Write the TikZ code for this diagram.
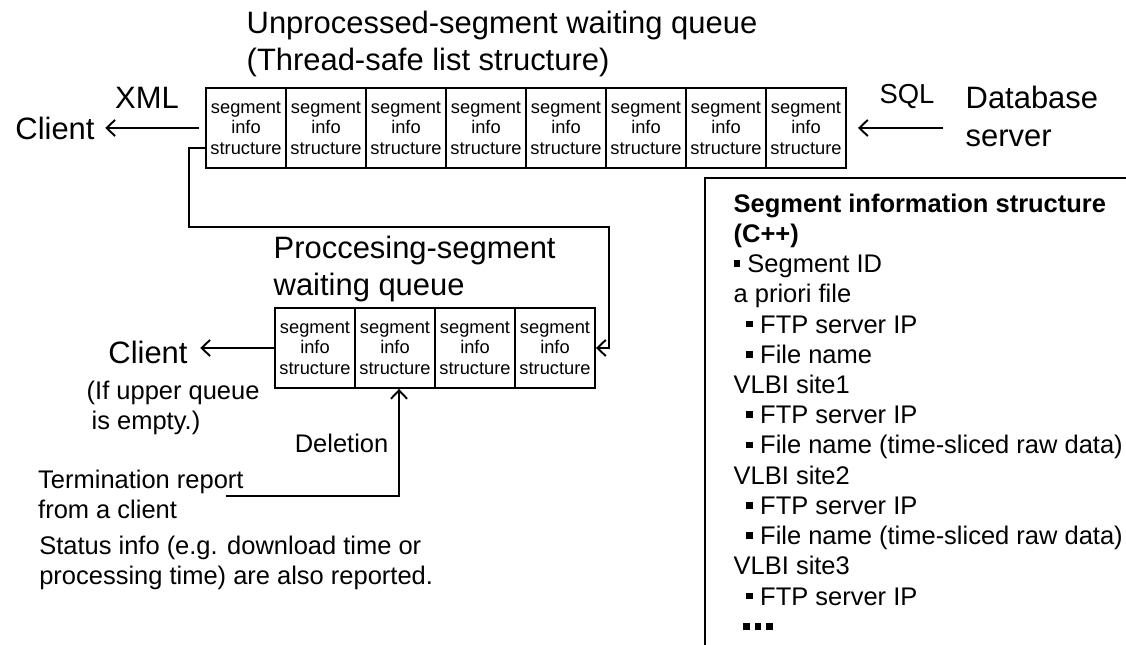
\documentclass[tikz,border=0pt]{standalone}
\usepackage{fontspec}
\setmainfont{Liberation Sans}
\usetikzlibrary{arrows.meta}
\newcommand{\sqb}{\rule[0.22em]{0.26em}{0.26em}\hspace{0.28em}}
\newcommand{\sqd}{\rule[0.22em]{0.26em}{0.26em}\hspace{0.2em}}

\begin{document}
\begin{tikzpicture}[
  cell/.style={draw,line width=0.55pt,minimum width=0.8cm,minimum height=0.8cm,inner sep=0pt,align=center,font=\fontsize{5.2}{5.9}\selectfont},
  big/.style={inner sep=0pt,align=left,font=\fontsize{8.8}{10.8}\selectfont},
  mid/.style={inner sep=0pt,align=left,font=\fontsize{7.25}{8.5}\selectfont},
  arr/.style={line width=0.55pt,-{Straight Barb[length=2.4pt,width=4.6pt]}}
]
\useasboundingbox (0,0) rectangle (11.26,6.45);

% unprocessed queue (top)
\foreach \i in {1,...,8}
  \node[cell] (u\i) at (2.06+0.8*\i-0.4,5.17) {segment\\info\\structure};
% processing queue (bottom)
\foreach \i in {1,...,4}
  \node[cell] (p\i) at (2.75+0.8*\i-0.4,2.97) {segment\\info\\structure};

\node[big,anchor=west] (utitle) at (2.46,6.01) {Unprocessed-segment waiting queue\\(Thread-safe list structure)};
\node[big] (xml) at (1.47,5.47) {XML};
\node[big] (clienta) at (0.55,5.17) {Client};
\node[inner sep=0pt,font=\fontsize{7.8}{9}\selectfont] (sql) at (9.07,5.48) {SQL};
\node[big,anchor=west] (db) at (9.65,5.29) {Database\\server};
\node[big,anchor=west] (ptitle) at (2.73,3.76) {Proccesing-segment\\waiting queue};
\node[big] (clientb) at (1.48,2.93) {Client};
\node[mid,anchor=west] (ifempty) at (0.86,2.37) {(If upper queue\\\hspace*{0.05cm}is empty.)};
\node[mid,anchor=east] (del) at (3.89,2.02) {Deletion};
\node[mid,anchor=west] (term) at (0.375,1.51) {Termination report\\from a client};
\node[mid,anchor=west] (status) at (0.386,0.82) {Status info (e.g. download time or\\processing time) are also reported.};

\coordinate (dbin) at (9.43,5.17);
\coordinate (bend) at (6.09,4.18);
\coordinate (termin) at (2.26,1.49);

\draw[arr,shorten <=0.06cm,shorten >=0.1cm] (u1.west) -- (clienta.east);
\draw[arr,shorten >=0.11cm] (dbin) -- (u8.east);
\draw[arr] ([yshift=-0.2cm]u1.west) -- ++(-0.16,0) |- (bend) |- (p4.east);
\draw[arr,shorten >=0.12cm] (p1.west) -- (clientb.east |- p1.west);
\draw[arr] (termin) -| ([xshift=0.04cm]p2.south);

% segment information structure box
\draw[line width=0.55pt] (11.26,4.67) -- (7.05,4.67) -- (7.05,0);
\node[anchor=north west,inner sep=0pt,align=left,font=\fontsize{7.25}{8.6}\selectfont] (seginfo) at (7.33,4.52) {%
\textbf{Segment information structure}\\
\textbf{(C++)}\\
\sqb Segment ID\\
a priori file\\
\hspace*{0.5em}\sqb FTP server IP\\
\hspace*{0.5em}\sqb File name\\
VLBI site1\\
\hspace*{0.5em}\sqb FTP server IP\\
\hspace*{0.5em}\sqb File name (time-sliced raw data)\\
VLBI site2\\
\hspace*{0.5em}\sqb FTP server IP\\
\hspace*{0.5em}\sqb File name (time-sliced raw data)\\
VLBI site3\\
\hspace*{0.5em}\sqb FTP server IP\\
\hspace*{0.36em}\sqd\sqd\sqd};
\end{tikzpicture}
\end{document}
